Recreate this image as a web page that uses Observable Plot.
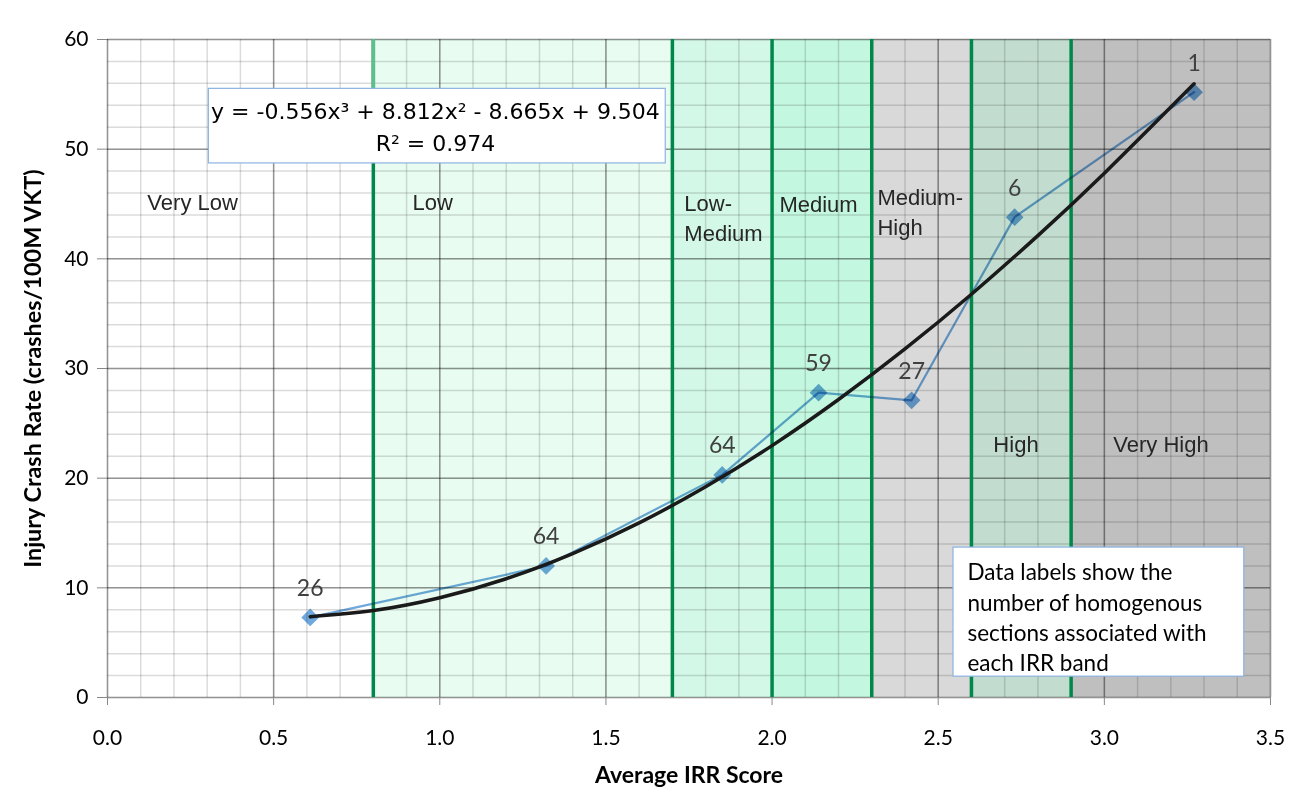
<!DOCTYPE html>
<html>
<head>
<meta charset="utf-8">
<script src="https://cdn.jsdelivr.net/npm/d3@7"></script>
<script src="https://cdn.jsdelivr.net/npm/@observablehq/plot@0.6"></script>
<style>
  html, body { margin: 0; padding: 0; background: #fff; }
  #chart svg { display: block; }
</style>
</head>
<body>
<div id="chart"></div>
<script>
// ---- data ----
const irrScore = [0.61, 1.32, 1.85, 2.14, 2.42, 2.73, 3.27];
const crashRate = [7.3, 12.0, 20.3, 27.8, 27.1, 43.8, 55.2];
const sectionCounts = [26, 64, 64, 59, 27, 6, 1];

// polynomial trendline
const trendX = [0.61, 0.8, 1.0, 1.2, 1.4, 1.6, 1.8, 2.0, 2.2, 2.4, 2.6, 2.8, 3.0, 3.27];
const trendY = [7.37, 7.93, 9.10, 10.83, 13.12, 15.92, 19.22, 22.97, 27.17, 31.78, 36.77, 42.12, 47.81, 55.96];

// IRR bands
const bandNames = ["Very Low", "Low", "Low-\nMedium", "Medium", "Medium-\nHigh", "High", "Very High"];
const bandEdges = [0, 0.8, 1.7, 2.0, 2.3, 2.6, 2.9, 3.5];
const bandLabelX = [0.12, 0.918, 1.736, 2.022, 2.317, 2.666, 3.027];
const bandLabelY = [45.3, 45.3, 43.9, 45.1, 44.4, 23.25, 23.25];

const xTicks = [0.0, 0.5, 1.0, 1.5, 2.0, 2.5, 3.0, 3.5];
const yTicks = [0, 10, 20, 30, 40, 50, 60];

const equationLines = ["y = -0.556x³ + 8.812x² - 8.665x + 9.504", "R² = 0.974"];
const noteText = "Data labels show the\nnumber of homogenous\nsections associated with\neach IRR band";

// ---- styles ----
const bandFills = ["#ffffff", "#e8fcf1", "#d3f8e7", "#c4f7df", "#d9d9d9", "#c2dccf", "#bfbfbf"];
const calibri = "Lato, 'Open Sans', sans-serif";
const arial = "'Liberation Sans', Arial, sans-serif";
const eqFont = "'DejaVu Sans', 'Noto Sans', sans-serif";

const points = irrScore.map((x, i) => ({x, y: crashRate[i], n: sectionCounts[i]}));
const trend = trendX.map((x, i) => ({x, y: trendY[i]}));
const bands = bandNames.map((name, i) => ({name, x1: bandEdges[i], x2: bandEdges[i + 1], fill: bandFills[i], lx: bandLabelX[i], ly: bandLabelY[i]}));
const innerEdges = bandEdges.slice(1, -1);

const minorX = d3.range(0, 36).map(i => i / 10);
const minorY = d3.range(0, 31).map(i => i * 2);

// annotation boxes (in data units)
const eqBox = {x1: 0.305, x2: 1.68, y1: 48.7, y2: 55.5};
const noteBox = {x1: 2.546, x2: 3.421, y1: 1.9, y2: 13.67};

const chart = Plot.plot({
  width: 1297,
  height: 802,
  marginLeft: 107,
  marginRight: 27,
  marginTop: 39,
  marginBottom: 105,
  style: {fontFamily: calibri, fontSize: "21px", color: "#000", background: "#fff"},
  x: {domain: [0, 3.5], axis: null},
  y: {domain: [0, 60], axis: null},
  marks: [
    // band backgrounds
    Plot.rect(bands, {x1: "x1", x2: "x2", y1: 0, y2: 60, fill: "fill"}),
    // minor grid
    Plot.ruleX(minorX, {stroke: "#000", strokeOpacity: 0.14, strokeWidth: 1.5}),
    Plot.ruleY(minorY, {stroke: "#000", strokeOpacity: 0.14, strokeWidth: 1.5}),
    // major grid
    Plot.ruleX(xTicks, {stroke: "#000", strokeOpacity: 0.33, strokeWidth: 1.5}),
    Plot.ruleY(yTicks, {stroke: "#000", strokeOpacity: 0.33, strokeWidth: 1.5}),
    // band boundaries
    Plot.ruleX(innerEdges, {stroke: "#00874a", strokeWidth: 3.5}),
    Plot.ruleX([bandEdges[1]], {y1: eqBox.y2, y2: 60, stroke: "#5cbf8d", strokeWidth: 3.5}),
    // band labels
    Plot.text(bands, {x: "lx", y: "ly", text: "name", textAnchor: "start", lineAnchor: "middle",
      lineHeight: 1.36, fontFamily: arial, fontSize: 22, fill: "#262626"}),
    // series
    Plot.line(points, {x: "x", y: "y", stroke: "#6fa8dc", strokeWidth: 2.2, mixBlendMode: "multiply"}),
    Plot.dot(points, {x: "x", y: "y", symbol: "diamond2", r: 8, fill: "#6fa8dc", stroke: "none", mixBlendMode: "multiply"}),
    // trendline
    Plot.line(trend, {x: "x", y: "y", curve: "natural", stroke: "#1a1a1a", strokeWidth: 3.5}),
    // data labels
    Plot.text(points, {x: "x", y: "y", text: "n", dy: -29, fontSize: 23, fill: "#404040"}),
    // equation box
    Plot.rect([eqBox], {x1: "x1", x2: "x2", y1: "y1", y2: "y2", fill: "#fff", stroke: "#8db3e2", strokeWidth: 1.2}),
    Plot.text([equationLines[0]], {x: 0.987, y: 53.4, fontFamily: eqFont, fontSize: 22, fill: "#000"}),
    Plot.text([equationLines[1]], {x: 0.987, y: 50.5, fontFamily: eqFont, fontSize: 22, fill: "#000"}),
    // note box
    Plot.rect([noteBox], {x1: "x1", x2: "x2", y1: "y1", y2: "y2", fill: "#fff", stroke: "#8db3e2", strokeWidth: 1.2}),
    Plot.text([noteText], {x: 2.588, y: 7.43, textAnchor: "start", lineAnchor: "middle", lineHeight: 1.35, fontSize: 22.5, fill: "#000"}),
    // axes
    Plot.axisX({ticks: xTicks, tickFormat: d3.format(".1f"), tickSize: 8, tickPadding: 25, stroke: "#888", fontSize: 21, label: null}),
    Plot.axisY({ticks: yTicks, tickSize: 10, tickPadding: 9, stroke: "#888", fontSize: 21, label: null}),
    // axis titles
    Plot.text(["Average IRR Score"], {frameAnchor: "bottom", dy: 85, fontWeight: "bold", fontSize: 23, fill: "#000"}),
    Plot.text(["Injury Crash Rate (crashes/100M VKT)"], {frameAnchor: "left", textAnchor: "middle", dx: -74, rotate: -90, fontWeight: "bold", fontSize: 23.4, fill: "#000"})
  ]
});
document.getElementById("chart").appendChild(chart);
</script>
</body>
</html>
